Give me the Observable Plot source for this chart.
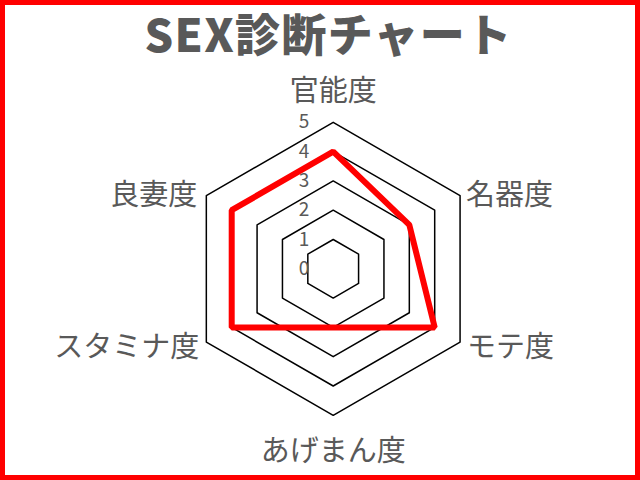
<!DOCTYPE html>
<html>
<head>
<meta charset="utf-8">
<script src="https://cdn.jsdelivr.net/npm/d3@7"></script>
<script src="https://cdn.jsdelivr.net/npm/@observablehq/plot@0.6"></script>
<style>
  html, body { margin: 0; padding: 0; background: #fff; }
  #wrap { position: relative; width: 640px; height: 480px; overflow: hidden; background: #fff; }
  #title { height: 64px; line-height: 62px; text-align: center; padding-left: 17px; padding-top: 2px; box-sizing: border-box;
           font-family: "Noto Sans CJK JP", sans-serif; font-weight: 900; font-size: 45px; letter-spacing: 1.3px; color: #595959; white-space: nowrap; }
  #frame { position: absolute; left: 0; top: 0; width: 640px; height: 480px; box-sizing: border-box;
           border: 5px solid #ff0000; pointer-events: none; }
  #chart svg { display: block; }
</style>
</head>
<body>
<div id="wrap">
  <div id="title">SEX診断チャート</div>
  <div id="chart"></div>
  <div id="frame"></div>
</div>
<script>
const categories = ["官能度", "名器度", "モテ度", "あげまん度", "スタミナ度", "良妻度"];
const values = [4, 3, 4, 2, 4, 4];
const tickLabels = [0, 1, 2, 3, 4, 5];
const gridLevels = [1, 2, 3, 4, 5];
const maxValue = 5;

const n = categories.length;
function px(i, r) { return r * Math.cos(Math.PI / 2 - i * 2 * Math.PI / n); }
function py(i, r) { return r * Math.sin(Math.PI / 2 - i * 2 * Math.PI / n); }

const gridData = gridLevels.flatMap(l => categories.map((c, i) => ({level: l, x: px(i, l), y: py(i, l)})));
const seriesData = categories.map((c, i) => ({name: c, x: px(i, values[i]), y: py(i, values[i])}));
const labelData = categories.map((c, i) => ({name: c, i, x: px(i, maxValue), y: py(i, maxValue)}));
const tickData = tickLabels.map(t => ({t, x: 0, y: t}));

const cx = 332.7, cy = 204.3, unit = 29.3, H = 416;
const font = "'Noto Sans CJK JP', sans-serif";
const gray = "#595959";

const chart = Plot.plot({
  width: 640,
  height: H,
  margin: 0,
  style: {fontFamily: font, background: "transparent"},
  x: {domain: [-6, 6], range: [cx - 6 * unit, cx + 6 * unit], axis: null},
  y: {domain: [-6, 6], range: [cy + 6 * unit, cy - 6 * unit], axis: null},
  marks: [
    Plot.line(gridData, {x: "x", y: "y", z: "level", curve: "linear-closed", stroke: "#000", strokeWidth: 1.5}),
    Plot.line(seriesData, {x: "x", y: "y", curve: "linear-closed", stroke: "#ff0000", strokeWidth: 6, strokeLinejoin: "miter"}),
    Plot.text(tickData, {x: "x", y: "y", text: d => String(d.t), textAnchor: "end", dx: -24, fontSize: 19, fill: gray}),
    Plot.text(labelData, {filter: d => d.i === 0, x: "x", y: "y", text: "name", textAnchor: "middle", dy: -31, fontSize: 29, fill: gray}),
    Plot.text(labelData, {filter: d => d.i === 3, x: "x", y: "y", text: "name", textAnchor: "middle", dy: 36, fontSize: 29, fill: gray}),
    Plot.text(labelData, {filter: d => d.i === 1, x: "x", y: "y", text: "name", textAnchor: "start", dx: 6, dy: 0, fontSize: 29, fill: gray}),
    Plot.text(labelData, {filter: d => d.i === 2, x: "x", y: "y", text: "name", textAnchor: "start", dx: 7, dy: 6, fontSize: 29, fill: gray}),
    Plot.text(labelData, {filter: d => d.i === 4, x: "x", y: "y", text: "name", textAnchor: "end", dx: -7, dy: 6, fontSize: 29, fill: gray}),
    Plot.text(labelData, {filter: d => d.i === 5, x: "x", y: "y", text: "name", textAnchor: "end", dx: -9, dy: 0, fontSize: 29, fill: gray})
  ]
});
document.getElementById("chart").appendChild(chart);
</script>
</body>
</html>
